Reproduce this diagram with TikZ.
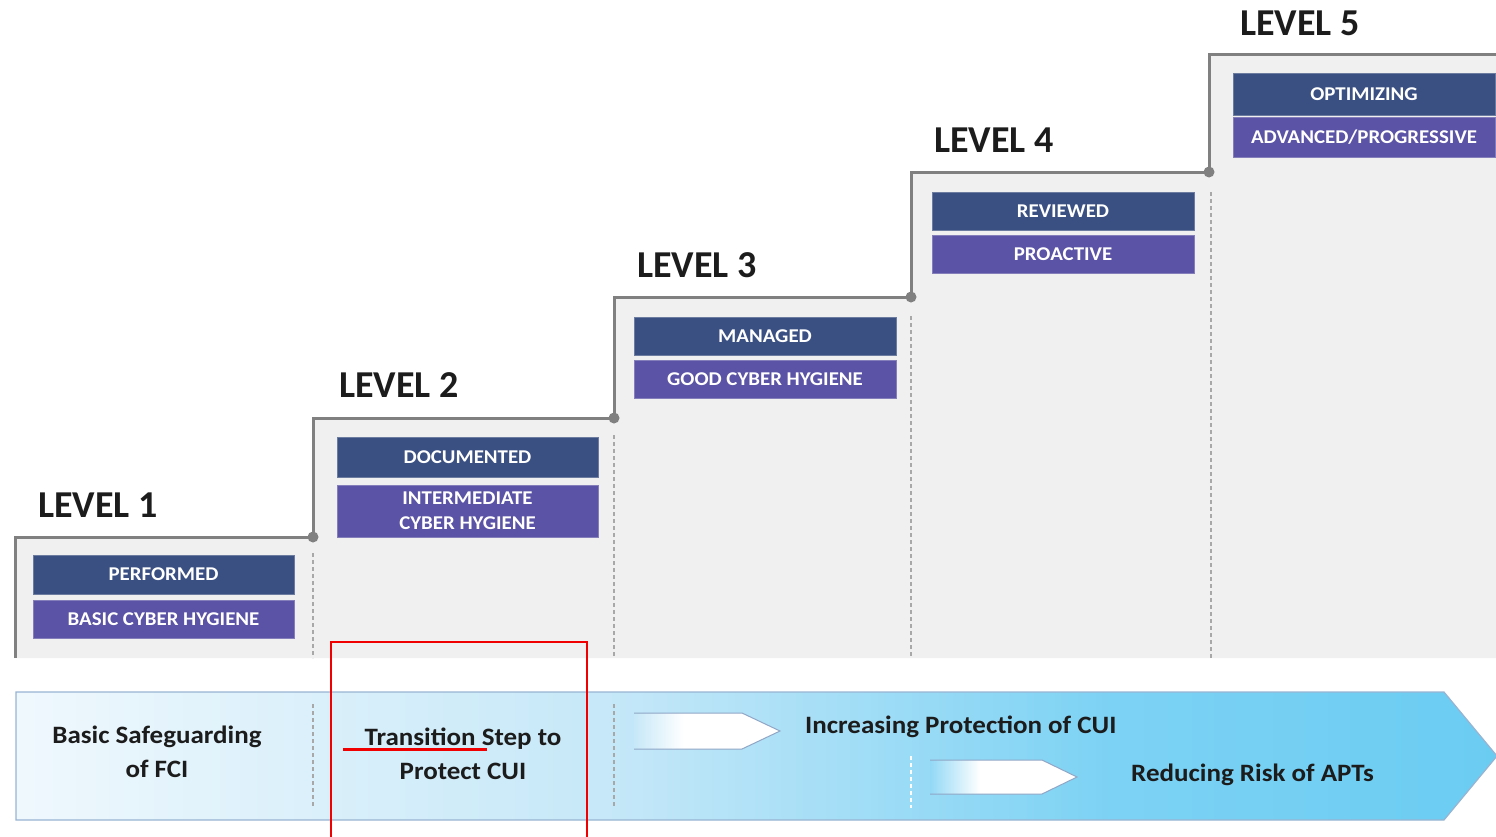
\documentclass[tikz,border=0pt]{standalone}
\usepackage{fontspec}
\setmainfont{Carlito}
\newfontfamily\tierfont[FakeStretch=1.07]{Carlito}
\newfontfamily\captionfont[FakeStretch=1.08]{Carlito}
\definecolor{stairline}{HTML}{808080}
\definecolor{stairfill}{HTML}{F0F0F0}
\definecolor{tierdark}{HTML}{3B5082}
\definecolor{tierpurple}{HTML}{5B53A5}
\definecolor{bannerL}{HTML}{EFF8FD}
\definecolor{bannerM}{HTML}{C6E8F8}
\definecolor{bannerN}{HTML}{7CD2F4}
\definecolor{bannerR}{HTML}{6BCCF2}
\definecolor{bannerEdge}{HTML}{98B4D2}
\definecolor{arrowEdge}{HTML}{8FA6C6}
\definecolor{inkdark}{HTML}{1C1C1C}
\definecolor{guide}{HTML}{A8A8A8}
\definecolor{markred}{HTML}{F00000}
\pgfdeclarehorizontalshading{bannershade}{100bp}{color(0bp)=(bannerL); color(25bp)=(bannerL); color(45bp)=(bannerM); color(62bp)=(bannerN); color(75bp)=(bannerR); color(100bp)=(bannerR)}
\pgfdeclarehorizontalshading{fadeone}{100bp}{color(0bp)=(bannerM); color(25bp)=(bannerM); color(42bp)=(white); color(100bp)=(white)}
\pgfdeclarehorizontalshading{fadetwo}{100bp}{color(0bp)=(bannerN!70!bannerM); color(25bp)=(bannerN!70!bannerM); color(42bp)=(white); color(100bp)=(white)}
\tikzset{
  leveltitle/.style={anchor=base west, inner sep=0pt, text=inkdark, font=\fontsize{38}{40}\selectfont\bfseries},
  tierbox/.style={inner sep=0pt, text=white, align=center, font=\tierfont\fontsize{19.5}{25}\selectfont\bfseries},
  darkbox/.style={tierbox, fill=tierdark, draw=tierdark!75!white, line width=0.8pt},
  purplebox/.style={tierbox, fill=tierpurple, draw=tierpurple!75!white, line width=0.8pt},
  stairedge/.style={draw=stairline, line width=3pt},
  stairdot/.style={circle, fill=stairline, inner sep=0pt, minimum size=11pt},
  guideline/.style={draw=guide, line width=1.5pt, dash pattern=on 4pt off 3pt},
  bannertext/.style={inner sep=0pt, text=inkdark, align=center, font=\captionfont\fontsize{25}{34}\selectfont\bfseries},
  minorarrow/.style={draw=arrowEdge, line width=1pt},
  redmark/.style={draw=markred, line width=2pt}
}
\begin{document}
\begin{tikzpicture}[x=1pt, y=-1pt]
\useasboundingbox (0,0) rectangle (1496,836);
\clip (0,0) rectangle (1496,836);

% staircase corners
\coordinate (s0) at (15,658);
\coordinate (s1) at (15,537);
\coordinate (d1) at (313,537);
\coordinate (s2) at (313,418);
\coordinate (d2) at (614,418);
\coordinate (s3) at (614,297);
\coordinate (d3) at (911,297);
\coordinate (s4) at (911,172);
\coordinate (d4) at (1209,172);
\coordinate (s5) at (1209,54);
\coordinate (se) at (1500,54);
\coordinate (sb) at (1500,658);

% shaded area under the steps
\fill[stairfill] (s0) -- (s1) -- (d1) -- (s2) -- (d2) -- (s3) -- (d3) -- (s4) -- (d4) -- (s5) -- (se) -- (sb) -- cycle;

% dashed dividers between levels
\coordinate (g1a) at (313,553); \coordinate (g1b) at (313,658);
\coordinate (g2a) at (614,435); \coordinate (g2b) at (614,658);
\coordinate (g3a) at (911,316); \coordinate (g3b) at (911,658);
\coordinate (g4a) at (1211,192); \coordinate (g4b) at (1211,658);
\draw[guideline] (g1a) -- (g1b);
\draw[guideline] (g2a) -- (g2b);
\draw[guideline] (g3a) -- (g3b);
\draw[guideline] (g4a) -- (g4b);

% step outline
\draw[stairedge, line join=miter] (s0) -- (s1) -- (d1) -- (s2) -- (d2) -- (s3) -- (d3) -- (s4) -- (d4) -- (s5) -- (se);
\node[stairdot] (p1) at (d1) {};
\node[stairdot] (p2) at (d2) {};
\node[stairdot] (p3) at (d3) {};
\node[stairdot] (p4) at (d4) {};

% level titles
\node[leveltitle] (lv1) at (38,517) {LEVEL 1};
\node[leveltitle] (lv2) at (339,397) {LEVEL 2};
\node[leveltitle] (lv3) at (637,277) {LEVEL 3};
\node[leveltitle] (lv4) at (934,152) {LEVEL 4};
\node[leveltitle] (lv5) at (1240,35) {LEVEL 5};

% level descriptors
\node[darkbox, minimum width=261pt, minimum height=39pt] (t1a) at (163.5,574.5) {PERFORMED};
\node[purplebox, minimum width=261pt, minimum height=38pt] (t1b) at (163.5,619) {BASIC CYBER HYGIENE};
\node[darkbox, minimum width=261pt, minimum height=40pt] (t2a) at (467.5,457) {DOCUMENTED};
\node[purplebox, minimum width=261pt, minimum height=52pt] (t2b) at (467.5,511) {INTERMEDIATE\\CYBER HYGIENE};
\node[darkbox, minimum width=262pt, minimum height=38pt] (t3a) at (765,336) {MANAGED};
\node[purplebox, minimum width=262pt, minimum height=38pt] (t3b) at (765,379) {GOOD CYBER HYGIENE};
\node[darkbox, minimum width=262pt, minimum height=38pt] (t4a) at (1063,211) {REVIEWED};
\node[purplebox, minimum width=262pt, minimum height=38pt] (t4b) at (1063,254) {PROACTIVE};
\node[darkbox, minimum width=262pt, minimum height=42pt] (t5a) at (1364,94) {OPTIMIZING};
\node[purplebox, minimum width=262pt, minimum height=40pt] (t5b) at (1364,137) {ADVANCED/PROGRESSIVE};

% progress banner
\coordinate (b0) at (16,692);
\coordinate (b1) at (1444,692);
\coordinate (b2) at (1497,756);
\coordinate (b3) at (1444,820);
\coordinate (b4) at (16,820);
\path[shading=bannershade] (b0) -- (b1) -- (b2) -- (b3) -- (b4) -- cycle;
\draw[draw=bannerEdge, line width=1.2pt, line join=miter] (b0) -- (b1) -- (b2) -- (b3) -- (b4) -- cycle;

% banner dividers
\coordinate (h1a) at (313,704); \coordinate (h1b) at (313,808);
\coordinate (h2a) at (614,704); \coordinate (h2b) at (614,808);
\coordinate (h3a) at (911,756); \coordinate (h3b) at (911,808);
\draw[guideline] (h1a) -- (h1b);
\draw[guideline] (h2a) -- (h2b);
\draw[guideline, draw=white] (h3a) -- (h3b);

% small direction arrows
\coordinate (a0) at (634,713); \coordinate (a1) at (742,713); \coordinate (a2) at (780,731);
\coordinate (a3) at (742,749); \coordinate (a4) at (634,749);
\path[shading=fadeone] (a0) -- (a1) -- (a2) -- (a3) -- (a4) -- cycle;
\draw[minorarrow] (a0) -- (a1) -- (a2) -- (a3) -- (a4);
\coordinate (c0) at (930,760); \coordinate (c1) at (1042,760); \coordinate (c2) at (1077,777);
\coordinate (c3) at (1042,794); \coordinate (c4) at (930,794);
\path[shading=fadetwo] (c0) -- (c1) -- (c2) -- (c3) -- (c4) -- cycle;
\draw[minorarrow] (c0) -- (c1) -- (c2) -- (c3) -- (c4);

% banner captions
\node[bannertext] (fci) at (157,752) {Basic Safeguarding\\of FCI};
\node[bannertext] (cui) at (463,754) {Transition Step to\\Protect CUI};
\node[bannertext, anchor=west] (inc) at (805,727) {Increasing Protection of CUI};
\node[bannertext, anchor=west] (apt) at (1131,775) {Reducing Risk of APTs};

% red emphasis
\coordinate (r0) at (331,840); \coordinate (r1) at (331,642);
\coordinate (r2) at (587,642); \coordinate (r3) at (587,840);
\draw[redmark, line join=miter] (r0) -- (r1) -- (r2) -- (r3);
\coordinate (u0) at (343,749); \coordinate (u1) at (487,749);
\draw[draw=markred, line width=3pt] (u0) -- (u1);
\end{tikzpicture}
\end{document}
